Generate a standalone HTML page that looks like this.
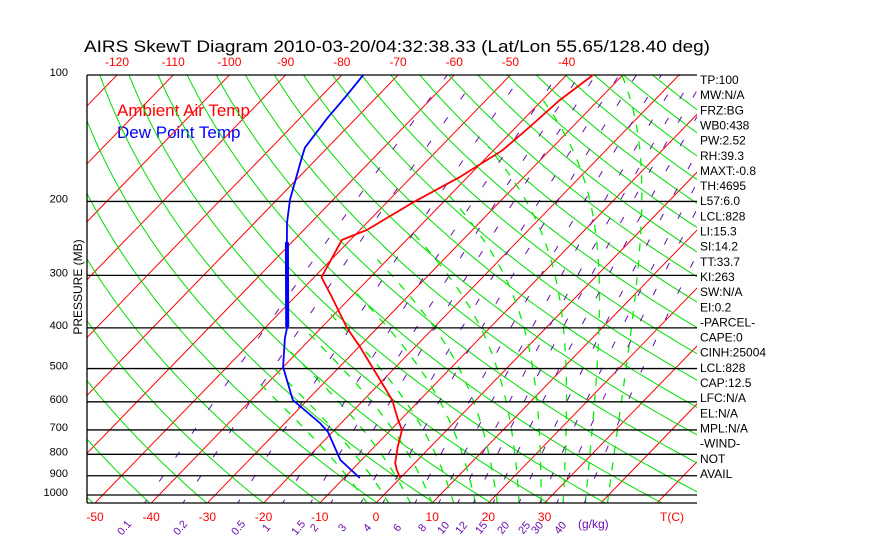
<!DOCTYPE html>
<html><head><meta charset="utf-8"><style>
html,body{margin:0;padding:0;background:#fff;}
svg{display:block;font-family:"Liberation Sans",sans-serif;}
</style></head><body>
<svg id="chart" width="870" height="560" viewBox="0 0 870 560">
<text x="84" y="52" font-size="17" textLength="626" lengthAdjust="spacingAndGlyphs" fill="#000">AIRS SkewT Diagram 2010-03-20/04:32:38.33 (Lat/Lon 55.65/128.40 deg)</text>
<text x="117" y="116" font-size="17" fill="#ff0000">Ambient Air Temp</text>
<text x="117" y="138" font-size="17" fill="#0000ff">Dew Point Temp</text>
<text transform="translate(82,287) rotate(-90)" font-size="12" text-anchor="middle" fill="#000">PRESSURE (MB)</text>
<text x="660" y="521" font-size="12" fill="#ff0000">T(C)</text>
<text x="578" y="528" font-size="12" fill="#6a0dad">(g/kg)</text>
<g id="plot"></g>
<g id="labels"></g>
</svg>
<script>
// ---- data ----
const pressureTicks = [100,200,300,400,500,600,700,800,900,1000];
const topTempTicks = [-120,-110,-100,-90,-80,-70,-60,-50,-40];
const bottomTempTicks = [-50,-40,-30,-20,-10,0,10,20,30];
const mixingRatios = [0.1,0.2,0.5,1,1.5,2,3,4,6,8,10,12,15,20,25,30,40];
const mixLabelX = [127,183,241,269,301,317,345,370,400,425,446,464,484,506,527,540,563];
const tempPressure = [911,872,839,769,700,663,594,518,444,400,338,303,247,234,201,175,151,133,115,100];
const tempValues = [0.0,-2.0,-3.5,-5.8,-8.0,-10.4,-14.9,-21.9,-29.8,-35.4,-43.4,-48.7,-51.5,-48.8,-45.3,-41.4,-38.4,-37.6,-36.9,-35.3];
const dewPressure = [911,825,708,674,594,496,423,398,250,225,198,157,149,127,112,100];
const dewValues = [-7.2,-13.8,-20.8,-23.8,-32.6,-40.0,-44.7,-46.2,-60.9,-64.2,-67.7,-72.9,-74.0,-75.1,-75.6,-76.2];
const dewThickRange = [398,250];
const sideLabels = ["TP:100","MW:N/A","FRZ:BG","WB0:438","PW:2.52","RH:39.3","MAXT:-0.8","TH:4695","L57:6.0","LCL:828","LI:15.3","SI:14.2","TT:33.7","KI:263","SW:N/A","EI:0.2","-PARCEL-","CAPE:0","CINH:25004","LCL:828","CAP:12.5","LFC:N/A","EL:N/A","MPL:N/A","-WIND-","NOT","AVAIL"];
const isotherms = []; for(let t=-170;t<=50;t+=10) isotherms.push(t);
const thetas = []; for(let th=200;th<=480;th+=10) thetas.push(th);
const moistThetaW = [-4,0,4,8,12,16,20,24,28,32,36,40];

// ---- axes ----
const X0=87,X1=697,YT=75,YB=503,PX=5.62,SK=0.9706,XZERO=376;
const yP=p=>YT+420*(Math.log10(p)-2);
const xT=(t,p)=>XZERO+t*PX+SK*(YB-yP(p));
const NS='http://www.w3.org/2000/svg';
const plot=document.getElementById('plot'), labels=document.getElementById('labels');
function el(tag,attrs,parent){const e=document.createElementNS(NS,tag);for(const k in attrs)e.setAttribute(k,attrs[k]);parent.appendChild(e);return e;}
const defs=el('defs',{},plot);
const cp=el('clipPath',{id:'clip'},defs);el('rect',{x:X0,y:YT,width:X1-X0,height:YB-YT},cp);
const g=el('g',{'clip-path':'url(#clip)'},plot);
function pathFrom(pts){return pts.map((q,i)=>(i?'L':'M')+q[0].toFixed(1)+','+q[1].toFixed(1)).join('');}
const pLevels=[];for(let p=1060;p>=95;p*=0.98)pLevels.push(p);

// isotherms
isotherms.forEach(t=>{
 const e=el('line',{x1:xT(t,1060),y1:yP(1060),x2:xT(t,95),y2:yP(95),stroke:'#ff0000','stroke-width':1},g);
 
 
});
// dry adiabats
thetas.forEach(th=>{
 const pts=pLevels.map(p=>[xT(th*Math.pow(p/1000,0.286)-273.15,p),yP(p)]);
 const e=el('path',{d:pathFrom(pts),fill:'none',stroke:'#00dd00','stroke-width':1},g);
 
 
});
// moist adiabats
function es(t){return 6.112*Math.exp(17.67*t/(t+243.5));}
function moist(tw){
 const step=(dir)=>{let T=tw+273.15,p=1000;const out=[];
  while(dir>0?p<=1060:p>=95){if(T-273.15>-42)out.push([xT(T-273.15,p),yP(p)]);
   const e=es(T-273.15),rs=0.622*e/(p-e);
   const dTdlnp=(287*T+2.5e6*rs)/(1004+2.5e6*2.5e6*rs*0.622/(287*T*T));
   const dl=dir*0.01;T+=dTdlnp*dl;p*=Math.exp(dl);}
  return out;};
 const up=step(-1),dn=step(1);return dn.reverse().concat(up);
}
moistThetaW.forEach(tw=>{
 const pts=moist(tw);if(pts.length<2)return;
 const e=el('path',{d:pathFrom(pts),fill:'none',stroke:'#00ee00','stroke-width':1.3,'stroke-dasharray':'8,9'},g);
 
 
});
// mixing ratio lines
function tFromW(w,p){const e=w*p/(622+w);const l=Math.log(e/6.112);return 243.5*l/(17.67-l);}
mixingRatios.forEach(w=>{
 const pts=pLevels.map(p=>[xT(tFromW(w,p),p),yP(p)]);
 const e=el('path',{d:pathFrom(pts),fill:'none',stroke:'#6a0dad','stroke-width':1,'stroke-dasharray':'7,22'},g);
 
 
});
// pressure lines
pressureTicks.forEach(p=>{
 const e=el('line',{x1:X0,y1:yP(p),x2:X1,y2:yP(p),stroke:'#000','stroke-width':1.3},plot);
 
 
});
const bl=el('line',{x1:X0,y1:YB,x2:X1,y2:YB,stroke:'#000','stroke-width':1.3},plot);


const ll=el('line',{x1:X0,y1:YT,x2:X0,y2:YB,stroke:'#000','stroke-width':1.3},plot);


// profiles
const tp=el('path',{d:pathFrom(tempPressure.map((p,i)=>[xT(tempValues[i],p),yP(p)])),fill:'none',stroke:'#ff0000','stroke-width':1.8},plot);


const dp=el('path',{d:pathFrom(dewPressure.map((p,i)=>[xT(dewValues[i],p),yP(p)])),fill:'none',stroke:'#0000ff','stroke-width':1.8},plot);


const thickPts=dewPressure.map((p,i)=>[p,dewValues[i]]).filter(q=>q[0]<=dewThickRange[0]&&q[0]>=dewThickRange[1]);
const dt=el('path',{d:pathFrom(thickPts.map(q=>[xT(q[1],q[0]),yP(q[0])])),fill:'none',stroke:'#0000ff','stroke-width':4},plot);


// labels
pressureTicks.forEach(p=>{
 const e=el('text',{x:68,y:yP(p)+1,'font-size':11,'text-anchor':'end',fill:'#000'},labels);e.textContent=p;
 
 
});
topTempTicks.forEach(t=>{
 const e=el('text',{x:xT(t,100),y:66,'font-size':12,'text-anchor':'middle',fill:'#ff0000'},labels);e.textContent=t;
 
 
});
bottomTempTicks.forEach(t=>{
 const e=el('text',{x:XZERO+t*PX,y:521,'font-size':12,'text-anchor':'middle',fill:'#ff0000'},labels);e.textContent=t;
 
 
});
mixingRatios.forEach((w,i)=>{
 const e=el('text',{transform:`translate(${mixLabelX[i]},530) rotate(-50)`,'font-size':11,'text-anchor':'middle',fill:'#6a0dad'},labels);e.textContent=w;
 
 
});
sideLabels.forEach((s,i)=>{
 const e=el('text',{x:700,y:84+i*15.15,'font-size':12,fill:'#000'},labels);e.textContent=s;
 
 
});
</script>
</body></html>
